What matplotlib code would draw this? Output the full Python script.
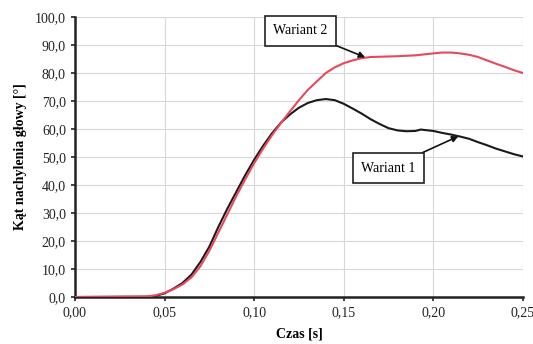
import matplotlib
matplotlib.use("Agg")
import matplotlib.pyplot as plt
from matplotlib.ticker import FuncFormatter, MultipleLocator

plt.rcParams['font.family'] = ['Liberation Serif', 'DejaVu Serif']

t_w1 = [0.0, 0.04, 0.045, 0.05, 0.055, 0.06, 0.065, 0.07, 0.075, 0.08, 0.085, 0.09, 0.095,
        0.10, 0.105, 0.11, 0.115, 0.12, 0.125, 0.13, 0.135, 0.14, 0.145, 0.15, 0.155,
        0.16, 0.165, 0.17, 0.175, 0.18, 0.185, 0.19, 0.193, 0.20, 0.205, 0.21, 0.215,
        0.22, 0.225, 0.23, 0.235, 0.24, 0.245, 0.25]
wariant1 = [0.0, 0.1, 0.4, 1.3, 3.0, 5.0, 8.0, 12.5, 18.0, 25.0, 31.5, 37.5, 43.5,
            49.0, 54.0, 58.5, 62.3, 65.2, 67.6, 69.3, 70.3, 70.7, 70.3, 69.0, 67.3,
            65.5, 63.5, 61.8, 60.3, 59.5, 59.2, 59.3, 59.8, 59.3, 58.6, 58.0, 57.3,
            56.5, 55.3, 54.2, 53.0, 52.0, 51.0, 50.2]

t_w2 = [0.0, 0.04, 0.045, 0.05, 0.055, 0.06, 0.065, 0.07, 0.075, 0.08, 0.085, 0.09, 0.095,
        0.10, 0.105, 0.11, 0.115, 0.12, 0.125, 0.13, 0.135, 0.14, 0.145, 0.15, 0.155,
        0.16, 0.165, 0.17, 0.18, 0.19, 0.20, 0.205, 0.21, 0.215, 0.22, 0.225, 0.23,
        0.235, 0.24, 0.245, 0.25]
wariant2 = [0.0, 0.2, 0.6, 1.5, 2.8, 4.5, 7.0, 11.0, 16.5, 23.0, 29.5, 36.0, 42.0,
            47.8, 53.0, 57.8, 62.2, 66.3, 70.3, 74.0, 77.0, 80.0, 82.0, 83.5, 84.5,
            85.3, 85.7, 85.8, 86.0, 86.3, 87.0, 87.3, 87.3, 87.0, 86.5, 85.7, 84.5,
            83.3, 82.2, 81.0, 80.0]

labels = ["Wariant 1", "Wariant 2"]
x_label = "Czas [s]"
y_label = "Kąt nachylenia głowy [°]"

fig = plt.figure(figsize=(5.33, 3.44), dpi=100)
ax = fig.add_axes([0.1407, 0.1366, 0.8403, 0.814])

ax.plot(t_w1, wariant1, color='#1a1a1a', lw=1.5, zorder=3)
ax.plot(t_w2, wariant2, color='#e8485a', lw=1.5, zorder=3)

ax.set_xlim(0, 0.25)
ax.set_ylim(0, 100)
ax.xaxis.set_major_locator(MultipleLocator(0.05))
ax.yaxis.set_major_locator(MultipleLocator(10))
ax.xaxis.set_major_formatter(FuncFormatter(lambda v, p: f"{v:.2f}".replace('.', ',')))
ax.yaxis.set_major_formatter(FuncFormatter(lambda v, p: f"{v:.1f}".replace('.', ',')))
ax.grid(True, color='#d8d8d8', lw=0.8)
ax.set_axisbelow(True)
for s in ['top', 'right']:
    ax.spines[s].set_visible(False)
for s in ['left', 'bottom']:
    ax.spines[s].set_linewidth(1.8)
    ax.spines[s].set_color('#222222')
ax.tick_params(axis='both', labelsize=10, length=3, width=1.2, direction='out', colors='#222222')

ax.set_xlabel(x_label, fontsize=10, fontweight='bold', labelpad=6)
ax.set_ylabel(y_label, fontsize=10, fontweight='bold', labelpad=6)

box = dict(boxstyle='square,pad=0.6', fc='white', ec='#222222', lw=1.2)
arrow = dict(arrowstyle='-|>', color='#111111', lw=1.2, mutation_scale=9, shrinkA=0, shrinkB=0)
ax.annotate(labels[1], xy=(0.162, 85.6), xytext=(0.1257, 95), fontsize=10,
            ha='center', va='center', bbox=box, arrowprops=arrow, zorder=5)
ax.annotate(labels[0], xy=(0.214, 57.4), xytext=(0.1749, 46), fontsize=10,
            ha='center', va='center', bbox=box, arrowprops=arrow, zorder=5)

fig.savefig("out.png", dpi=100)
